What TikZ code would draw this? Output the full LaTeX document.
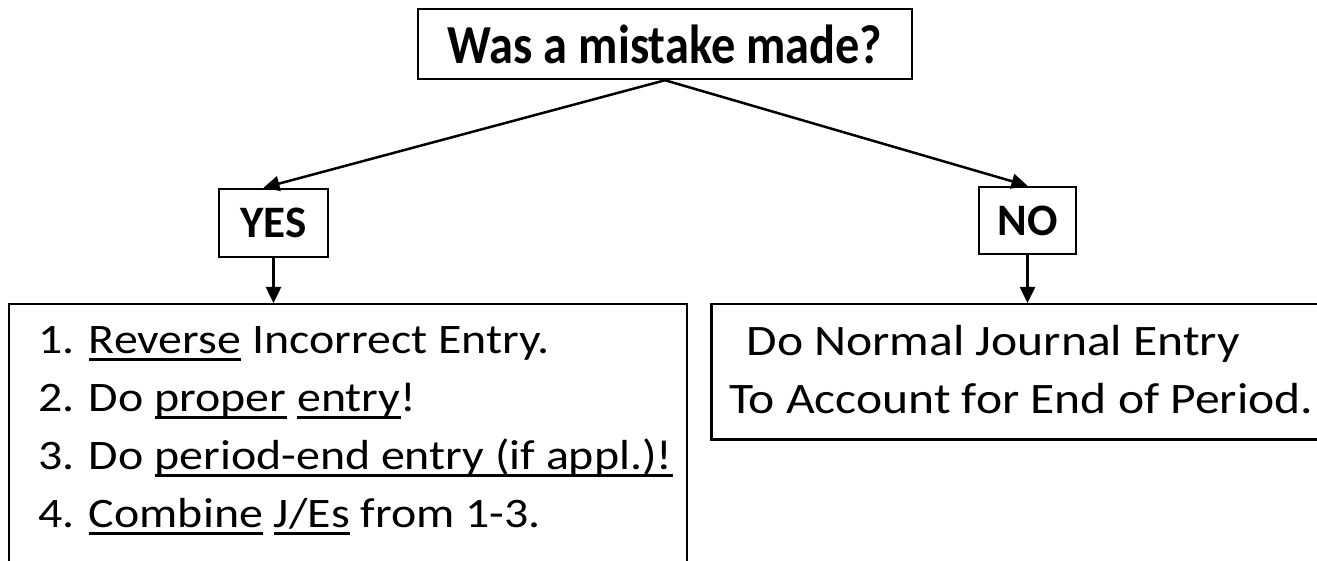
\documentclass[tikz,border=0pt]{standalone}
\usepackage{fontspec}
\setmainfont{Carlito}
\newfontfamily\bodyfont{Carlito}[FakeStretch=1.14]
\newfontfamily\askfont{Carlito}[FakeStretch=0.88]
\usetikzlibrary{arrows.meta}

% underline at a fixed depth, so words with and without descenders line up
\newcommand{\ulword}[1]{\setbox0\hbox{#1}\rlap{\rule[-0.2em]{\wd0}{0.09em}}\box0\relax}

\tikzset{
  box/.style={draw=black, line width=2.5pt, inner sep=0pt},
  arr/.style={black, line width=2.5pt, -{Triangle[length=16pt,width=15pt]}},
  step text/.style={anchor=base west, inner sep=0pt, font=\bodyfont\fontsize{42}{58}\selectfont},
}

\begin{document}
\begin{tikzpicture}[x=1pt,y=-1pt]

\useasboundingbox (0,0) rectangle (1317,561);
\clip (0,0) rectangle (1317,561);

% question and the two answers
\node[box, minimum width=494, minimum height=70, font=\askfont\fontsize{55}{60}\selectfont\bfseries] (ask) at (665,44) {Was a mistake made?};
\node[box, minimum width=109, minimum height=68, font=\fontsize{45}{54}\selectfont\bfseries] (yes) at (273.5,223) {YES};
\node[box, minimum width=97, minimum height=67, font=\fontsize{45}{54}\selectfont\bfseries] (no) at (1027.5,220.5) {NO};

% what to do in each case
\node[box, minimum width=678, minimum height=300, anchor=north] (fix) at (348,303) {};
\node[box, minimum width=620, minimum height=135, anchor=north west, align=center,
      font=\bodyfont\fontsize{43.5}{58}\selectfont] (normal) at (710,303)
  {\raisebox{4pt}{Do Normal Journal Entry\hspace*{56pt}}\\\raisebox{4pt}{To Account for End of Period.}};

\node[step text] (s1) at (38,353) {1. \ulword{Reverse} Incorrect Entry.};
\node[step text] (s2) at (38,411) {2. Do \ulword{proper} \ulword{entry}!};
\node[step text] (s3) at (38,469) {3. Do \ulword{period-end entry (if appl.)!}};
\node[step text] (s4) at (38,527) {4. \ulword{Combine} \ulword{J/Es} from 1-3.};

% arrows
\coordinate (split) at (ask.south);
\draw[arr] (split) -- ([xshift=-10pt]yes.north);
\draw[arr] (split) -- (no.north);
\draw[arr] (yes.south) -- (yes.south |- fix.north);
\draw[arr] (no.south) -- (no.south |- normal.north);

\end{tikzpicture}
\end{document}
